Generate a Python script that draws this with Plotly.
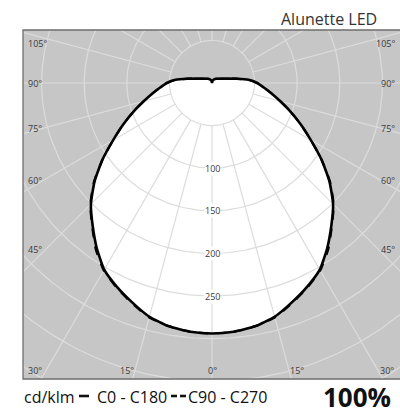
import numpy as np
import plotly.graph_objects as go

# ---------------- data ----------------
gamma = [0, 5, 10, 15, 20, 25, 30, 35, 40, 45, 50, 55, 60, 65, 70, 75, 80, 85,
         90, 95, 100, 105, 110, 120, 135, 150, 165, 180]
i_c0_c180 = [294, 293, 290, 284, 274, 264, 253, 236, 218, 201, 180, 157, 134, 115,
             98, 83, 71, 61, 53, 43, 29, 20, 15, 10, 7, 5, 3, 0]
i_c90_c270 = [294, 293, 290, 285, 275, 265, 254, 238, 219, 202, 181, 157, 134, 115,
              98, 83, 71, 61, 53, 43, 29, 20, 15, 10, 7, 5, 3, 0]
ring_values = [50, 100, 150, 200, 250, 300, 350, 400, 450]
ring_labels = [100, 150, 200, 250]
spoke_angles = list(range(0, 360, 15))
side_labels = ["105°", "90°", "75°", "60°", "45°"]
bottom_labels = ["30°", "15°", "0°", "15°", "30°"]
title_text = "Alunette LED"
unit_text = "cd/klm"
legend_c0 = "C0 - C180"
legend_c90 = "C90 - C270"
efficiency_text = "100%"

# ---------------- geometry (pixels) ----------------
W, H = 400, 414
CX, CY = 212, 83          # origin in pixels
S = 0.852                 # px per cd
L, R, T, B = 23, 400, 30, 379


def px(x):
    return x / W


def py(y):
    return 1 - y / H


x_range = [(L - CX) / S, (R - CX) / S]
y_range = [-(B - CY) / S, -(T - CY) / S]


def closed_curve(g, inten):
    g = np.radians(np.array(g, dtype=float))
    inten = np.array(inten, dtype=float)
    xr = inten * np.sin(g)
    yr = -inten * np.cos(g)
    x = np.concatenate([xr, -xr[::-1]])
    y = np.concatenate([yr, yr[::-1]])
    return x, y


SPL = dict(shape="spline", smoothing=0.5)
fig = go.Figure()

# white fill of the distribution
fx, fy = closed_curve(gamma, i_c0_c180)
fig.add_trace(go.Scatter(x=fx, y=fy, mode="lines", fill="toself",
                         fillcolor="white", line=dict(width=0, color="white", **SPL),
                         hoverinfo="skip", showlegend=False))

# grid: rings
t = np.linspace(0, 2 * np.pi, 361)
gx, gy = [], []
for r in ring_values:
    gx += list(r * np.sin(t)) + [None]
    gy += list(-r * np.cos(t)) + [None]
# grid: spokes
for a in spoke_angles:
    ar = np.radians(a)
    gx += [50 * np.sin(ar), 600 * np.sin(ar), None]
    gy += [-50 * np.cos(ar), -600 * np.cos(ar), None]
fig.add_trace(go.Scatter(x=gx, y=gy, mode="lines",
                         line=dict(color="#dcdcdc", width=1.2),
                         hoverinfo="skip", showlegend=False))

# curves
cx0, cy0 = closed_curve(gamma, i_c0_c180)
fig.add_trace(go.Scatter(x=cx0, y=cy0, mode="lines",
                         line=dict(color="black", width=2.6, **SPL),
                         hoverinfo="skip", showlegend=False))
cx9, cy9 = closed_curve(gamma, i_c90_c270)
fig.add_trace(go.Scatter(x=cx9, y=cy9, mode="lines",
                         line=dict(color="black", width=2.2, dash="dash", **SPL),
                         hoverinfo="skip", showlegend=False))

annotations = []
lab_font = dict(size=9, color="#3a3a3a", family="Open Sans")
# ring labels
for v in ring_labels:
    annotations.append(dict(x=0, y=-v, xref="x", yref="y", text=str(v),
                            showarrow=False, bgcolor="white", borderpad=0,
                            font=lab_font))

# side labels
side_y = [43, 83, 128, 181, 249]
for lab, yy in zip(side_labels, side_y):
    annotations.append(dict(x=px(26), y=py(yy), xref="paper", yref="paper",
                            text=lab, showarrow=False, xanchor="left", yanchor="middle",
                            font=lab_font))
    annotations.append(dict(x=px(397), y=py(yy), xref="paper", yref="paper",
                            text=lab, showarrow=False, xanchor="right", yanchor="middle",
                            font=lab_font))
bottom_x = [35, 127, 212, 297, 387]
for lab, xx in zip(bottom_labels, bottom_x):
    annotations.append(dict(x=px(xx), y=py(370), xref="paper", yref="paper",
                            text=lab, showarrow=False, xanchor="center", yanchor="middle",
                            font=lab_font))

# title
annotations.append(dict(x=px(379), y=py(19), xref="paper", yref="paper",
                        text=title_text, showarrow=False, xanchor="right", yanchor="middle",
                        font=dict(size=16, color="#333", family="Open Sans")))
# legend-like footer
footer_font = dict(size=16, color="#111", family="Open Sans")
FY = 397
annotations.append(dict(x=px(22), y=py(FY), xref="paper", yref="paper",
                        text=unit_text, showarrow=False, xanchor="left", yanchor="middle",
                        font=footer_font))
annotations.append(dict(x=px(95), y=py(FY), xref="paper", yref="paper",
                        text=legend_c0, showarrow=False, xanchor="left", yanchor="middle",
                        font=footer_font))
annotations.append(dict(x=px(186), y=py(FY), xref="paper", yref="paper",
                        text=legend_c90, showarrow=False, xanchor="left", yanchor="middle",
                        font=footer_font))
annotations.append(dict(x=px(393), y=py(397), xref="paper", yref="paper",
                        text="<b>" + efficiency_text + "</b>", showarrow=False,
                        xanchor="right", yanchor="middle",
                        font=dict(size=26, color="#111", family="Open Sans")))

DY = 396
shapes = [
    dict(type="rect", xref="paper", yref="paper", x0=px(L), x1=px(R) + 0.01,
         y0=py(B), y1=py(T), line=dict(color="#6e6e6e", width=1.3),
         fillcolor="rgba(0,0,0,0)", layer="above"),
    dict(type="line", xref="paper", yref="paper", x0=px(79), x1=px(89),
         y0=py(DY), y1=py(DY), line=dict(color="#111", width=2.6)),
    dict(type="line", xref="paper", yref="paper", x0=px(171), x1=px(177),
         y0=py(DY), y1=py(DY), line=dict(color="#111", width=2.6)),
    dict(type="line", xref="paper", yref="paper", x0=px(180), x1=px(186),
         y0=py(DY), y1=py(DY), line=dict(color="#111", width=2.6)),
]

fig.update_layout(
    width=W, height=H,
    margin=dict(l=0, r=0, t=0, b=0),
    paper_bgcolor="white",
    plot_bgcolor="#c6c6c6",
    xaxis=dict(domain=[px(L), px(R)], range=x_range, showgrid=False,
               zeroline=False, showticklabels=False, ticks="", fixedrange=True),
    yaxis=dict(domain=[py(B), py(T)], range=y_range, showgrid=False,
               zeroline=False, showticklabels=False, ticks="", fixedrange=True),
    annotations=annotations,
    shapes=shapes,
    showlegend=False,
)

fig.write_html(
    "out.html",
    config={"displayModeBar": False},
    post_script="document.body.style.margin='0';document.body.style.overflow='hidden';",
)
